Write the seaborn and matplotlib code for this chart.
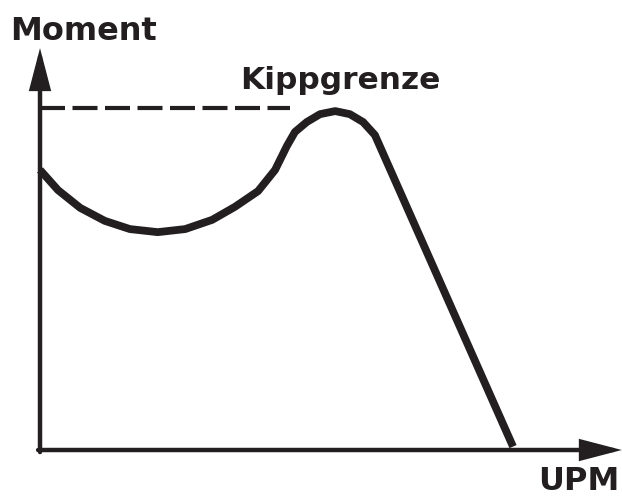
import numpy as np
import pandas as pd
import seaborn as sns
import matplotlib
matplotlib.use("Agg")
import matplotlib.pyplot as plt

# speed in % of synchronous speed, torque in % of breakdown torque (Kippgrenze = 100)
upm = [0, 3.8, 8.5, 13.7, 19.0, 24.9, 30.7, 36.4, 41.2, 46.1, 49.7, 52.2, 53.9,
       56.4, 59.2, 62.4, 65.5, 68.3, 70.8, 100]
moment = [81.9, 76.0, 70.8, 67.0, 64.6, 63.7, 64.6, 67.3, 71.1, 75.7, 81.9, 88.9,
          93.0, 95.9, 98.2, 99.1, 98.2, 95.9, 92.1, 1.0]
kipp_level = 100
kipp_end = 52.9
x_label = "UPM"
y_label = "Moment"
kipp_label = "Kippgrenze"

ink = "#231f20"
sns.set_style("white")
plt.rcParams['font.family'] = ['DejaVu Sans']

fig = plt.figure(figsize=(6.22, 4.97), dpi=100)
ax = fig.add_axes([0, 0, 1, 1])

df = pd.DataFrame({"upm": upm, "moment": moment})
sns.lineplot(data=df, x="upm", y="moment", ax=ax, color=ink, lw=5.6, sort=False,
             solid_joinstyle="round", solid_capstyle="butt")

# Kippgrenze dashed line
ax.plot([0, kipp_end], [kipp_level, kipp_level], color=ink, lw=3.0,
        dashes=(6.0, 1.8), dash_capstyle="butt")

# axes arrows
arrow = dict(arrowstyle="-|>,head_length=2.3,head_width=0.6", lw=3.2, color=ink,
             shrinkA=0, shrinkB=0, joinstyle="miter")
ax.annotate("", xy=(0, 117.5), xytext=(0, -0.6), arrowprops=arrow)
ax.annotate("", xy=(123.0, 0), xytext=(-0.4, 0), arrowprops=arrow)

ax.text(-6.4, 119.9, y_label, fontsize=23, fontweight="bold", color=ink,
        ha="left", va="baseline")
ax.text(42.3, 105.6, kipp_label, fontsize=22.5, fontweight="bold", color=ink,
        ha="left", va="baseline")
ax.text(122.6, -4.6, x_label, fontsize=23, fontweight="bold", color=ink,
        ha="right", va="top")

# map data so that origin sits at pixel (40, 450)
ax.set_xlim(-8.457, 123.04)
ax.set_ylim(-13.74, 131.58)
ax.set_axis_off()

fig.savefig("out.png", dpi=100)
